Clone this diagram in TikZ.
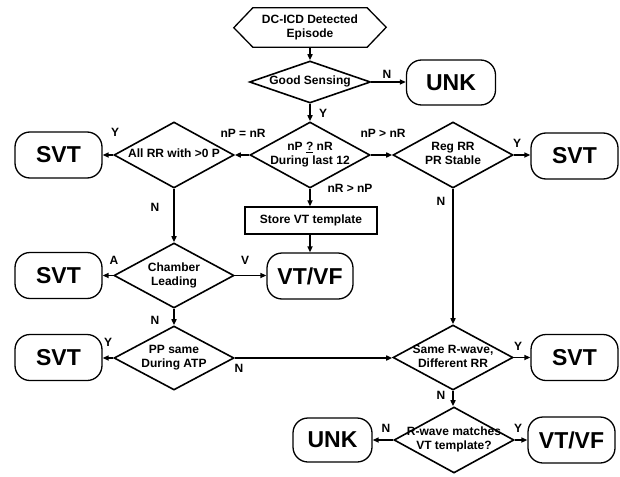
\documentclass[tikz,border=0pt]{standalone}
\usepackage{fontspec}
\setmainfont{Liberation Sans}
\usetikzlibrary{arrows.meta,shapes.geometric}
\newcommand{\dlines}[1]{\makebox[0pt]{\begin{tabular}{@{}c@{}}#1\end{tabular}}}
\begin{document}
\begin{tikzpicture}[x=1pt,y=-1pt,
  every node/.style={font=\bfseries\fontsize{12}{14}\selectfont},
  dia/.style={diamond, draw, line width=1.6pt, inner sep=0pt, minimum width=120pt, minimum height=66pt, aspect=1.8},
  term/.style={draw, line width=1.3pt, rounded corners=15pt, minimum width=87pt, minimum height=46pt, inner sep=0pt, font=\bfseries\fontsize{23}{26}\selectfont},
  proc/.style={draw, line width=1.3pt, minimum width=132pt, minimum height=27pt, inner sep=0pt},
  arr/.style={line width=1.5pt, -{Triangle[length=6pt,width=5pt]}},
  lab/.style={inner sep=0pt}
]
\useasboundingbox (0,0) rectangle (620,476);

% start
\node[minimum width=114pt, minimum height=39pt, inner sep=0pt, align=center] (start) at (310,27.5) {DC-ICD Detected\\Episode};
\draw[line width=1.3pt] (start.north west) -- (start.north east) -- ++(19,19.5) -- (start.south east) -- (start.south west) -- ++(-19,-19.5) -- cycle;

\node[dia, minimum width=121pt, minimum height=42pt] (gs) at (310,82) {\dlines{Good Sensing}};
\node[term, minimum width=89pt, minimum height=45pt] (unk1) at (451,82.5) {UNK};

\node[dia] (mid) at (310,155) {\dlines{nP \underline{?} nR\\During last 12}};
\node[dia] (allrr) at (174,155) {\dlines{All RR with >0 P}};
\node[term] (svt1) at (58.5,155) {SVT};
\node[proc] (store) at (311,220.5) {Store VT template};
\node[dia] (reg) at (453,155) {\dlines{Reg RR\\PR Stable}};
\node[term] (svt2) at (574.5,156) {SVT};

\node[dia, minimum height=65pt] (cl) at (174,275.5) {\dlines{Chamber\\Leading}};
\node[term] (svt3) at (58.5,275.5) {SVT};
\node[term, minimum width=86pt] (vt1) at (310,276) {VT/VF};

\node[dia, minimum height=64pt] (pp) at (174,358) {\dlines{PP same\\During ATP}};
\node[term] (svt4) at (58.5,357.5) {SVT};
\node[dia, minimum height=65pt] (same) at (453,357.5) {\dlines{Same R-wave,\\Different RR}};
\node[term] (svt5) at (574.5,357.5) {SVT};

\node[dia] (rw) at (454,440) {\dlines{R-wave matches\\VT template?}};
\node[term, minimum width=79pt, minimum height=44pt] (unk2) at (332.5,440) {UNK};
\node[term] (vt2) at (571.5,440) {VT/VF};

% connectors
\draw[arr] (start.south) -- (gs.north);
\draw[arr] (gs.east) -- (unk1.west |- gs.east);
\draw[arr] (gs.south) -- (mid.north);
\draw[arr] (mid.west) -- (allrr.east);
\draw[arr] (allrr.west) -- (svt1.east |- allrr.west);
\draw[arr] (allrr.south) -- (cl.north);
\draw[arr] (mid.south) -- (store.north -| mid.south);
\draw[arr] (store.south -| mid.south) -- (vt1.north -| mid.south);
\draw[arr] (mid.east) -- (reg.west);
\draw[arr] (reg.east) -- (svt2.west |- reg.east);
\draw[arr] (reg.south) -- (same.north);
\draw[arr] (cl.west) -- (svt3.east |- cl.west);
\draw[arr] (cl.east) -- (vt1.west |- cl.east);
\draw[arr] (cl.south) -- (pp.north);
\draw[arr] (pp.west) -- (svt4.east |- pp.west);
\draw[arr] (pp.east) -- (same.west |- pp.east);
\draw[arr] (same.east) -- (svt5.west |- same.east);
\draw[arr] (same.south) -- (rw.north -| same.south);
\draw[arr] (rw.west) -- (unk2.east |- rw.west);
\draw[arr] (rw.east) -- (vt2.west |- rw.east);

% labels
\node[lab] (l1) at (387,74) {N};
\node[lab] (l2) at (323,113) {Y};
\node[lab] (l3) at (243,133) {nP = nR};
\node[lab] (l4) at (115,132) {Y};
\node[lab] (l5) at (155,207) {N};
\node[lab] (l6) at (350,188) {nR > nP};
\node[lab] (l7) at (383,133) {nP > nR};
\node[lab] (l8) at (517,143) {Y};
\node[lab] (l9) at (441,201) {N};
\node[lab] (l10) at (114,260) {A};
\node[lab] (l11) at (245,260) {V};
\node[lab] (l12) at (155,320) {N};
\node[lab] (l13) at (108,342) {Y};
\node[lab] (l14) at (239,368) {N};
\node[lab] (l15) at (518,346) {Y};
\node[lab] (l16) at (441,395) {N};
\node[lab] (l17) at (386,428) {N};
\node[lab] (l18) at (518,428) {Y};
\end{tikzpicture}
\end{document}
